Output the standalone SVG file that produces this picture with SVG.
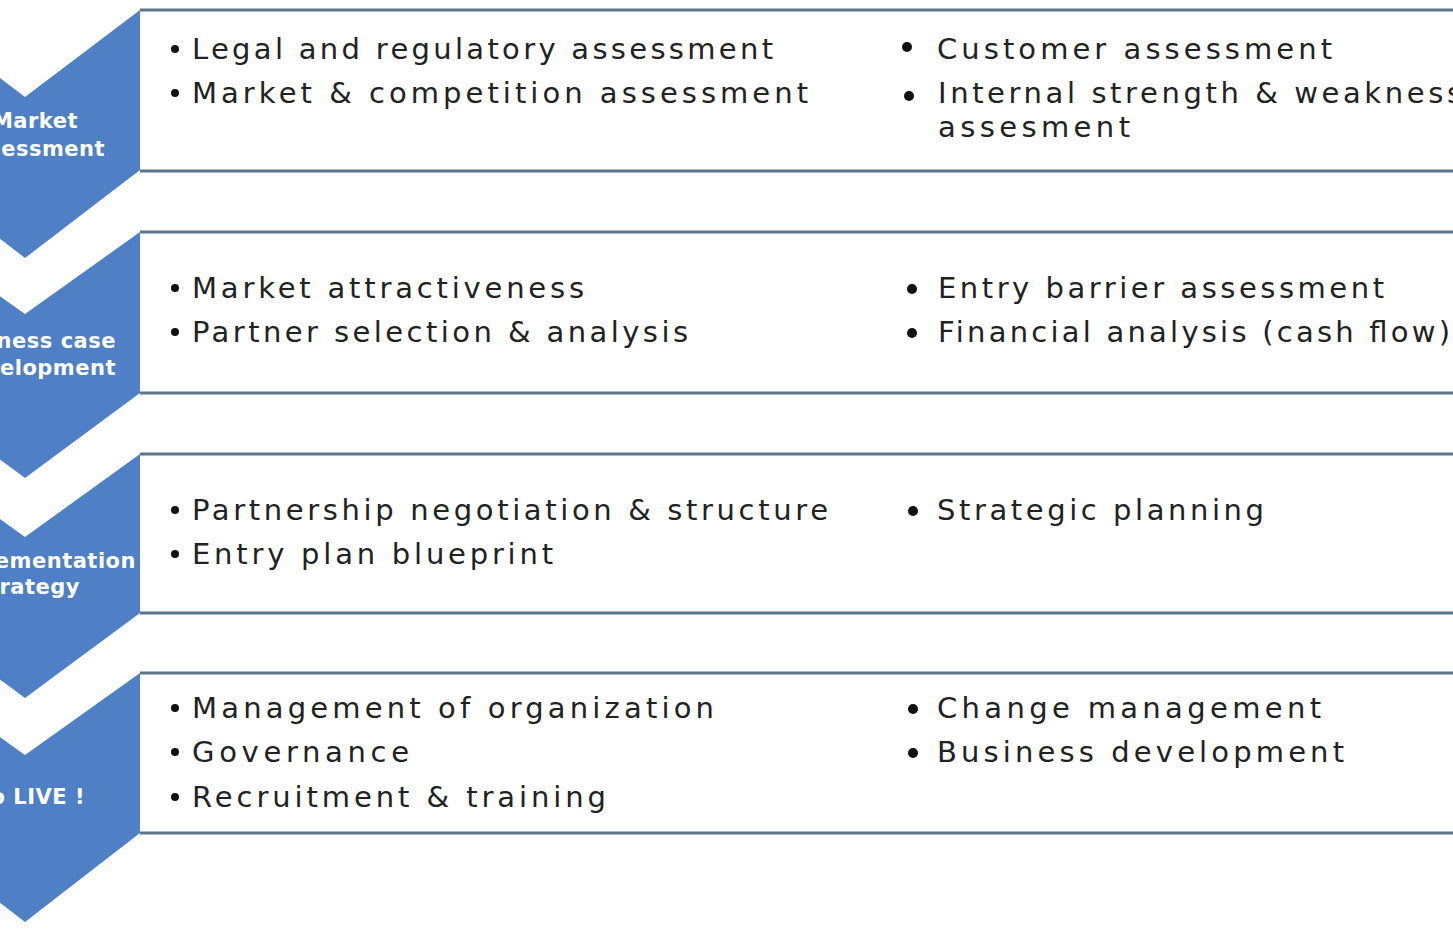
<svg xmlns="http://www.w3.org/2000/svg" width="1453" height="937" viewBox="0 0 1453 937">
<style>
.chev{fill:#4f80c6}
.box{fill:#ffffff}
.rule{stroke:#5c7488;stroke-width:3;fill:none}
.lbl{font-family:"DejaVu Sans","Liberation Sans",sans-serif;font-size:21px;font-weight:bold;fill:#ffffff;letter-spacing:0.5px}
.item{font-family:"DejaVu Sans","Liberation Sans",sans-serif;font-size:29px;fill:#222222}
.dot{fill:#111111}
</style>
<rect x="0" y="0" width="1453" height="937" fill="#ffffff"/>
<g id="connectors"></g>
<g id="step1">
<polygon class="chev" points="-90,10 25,97 140,10 140,170 25,258 -90,170"/>
<rect class="box" x="141" y="11" width="1312" height="158"/>
<line class="rule" x1="140" y1="10" x2="1453" y2="10"/>
<line class="rule" x1="140" y1="171" x2="1453" y2="171"/>
<text class="lbl" x="78" y="128" text-anchor="end">Market</text>
<text class="lbl" x="105" y="156" text-anchor="end">Assessment</text>
<circle class="dot" cx="175" cy="49" r="4"/>
<text class="item" x="192" y="59" textLength="581" lengthAdjust="spacing">Legal and regulatory assessment</text>
<circle class="dot" cx="175" cy="93" r="4"/>
<text class="item" x="192" y="103" textLength="616" lengthAdjust="spacing">Market &amp; competition assessment</text>
<circle class="dot" cx="907" cy="47" r="5"/>
<text class="item" x="937" y="59" textLength="395" lengthAdjust="spacing">Customer assessment</text>
<circle class="dot" cx="909" cy="96" r="5"/>
<text class="item" x="938" y="103" textLength="524" lengthAdjust="spacing">Internal strength &amp; weakness</text>
<text class="item" x="938" y="137" textLength="192" lengthAdjust="spacing">assesment</text>
</g>
<g id="step2">
<polygon class="chev" points="-90,232 25,314 140,232 140,393 25,478 -90,393"/>
<rect class="box" x="141" y="233" width="1312" height="159"/>
<line class="rule" x1="140" y1="232" x2="1453" y2="232"/>
<line class="rule" x1="140" y1="393" x2="1453" y2="393"/>
<text class="lbl" x="116" y="348" text-anchor="end">Business case</text>
<text class="lbl" x="116" y="375" text-anchor="end">Development</text>
<circle class="dot" cx="175" cy="288" r="4"/>
<text class="item" x="192" y="298" textLength="392" lengthAdjust="spacing">Market attractiveness</text>
<circle class="dot" cx="175" cy="332" r="4"/>
<text class="item" x="192" y="342" textLength="496" lengthAdjust="spacing">Partner selection &amp; analysis</text>
<circle class="dot" cx="912" cy="289" r="5"/>
<text class="item" x="938" y="298" textLength="446" lengthAdjust="spacing">Entry barrier assessment</text>
<circle class="dot" cx="912" cy="333" r="5"/>
<text class="item" x="938" y="342" textLength="512" lengthAdjust="spacing">Financial analysis (cash flow)</text>
</g>
<g id="step3">
<polygon class="chev" points="-90,454 25,537 140,454 140,613 25,698 -90,613"/>
<rect class="box" x="141" y="455" width="1312" height="157"/>
<line class="rule" x1="140" y1="454" x2="1453" y2="454"/>
<line class="rule" x1="140" y1="613" x2="1453" y2="613"/>
<text class="lbl" x="136" y="568" text-anchor="end">Implementation</text>
<text class="lbl" x="80" y="594" text-anchor="end">Strategy</text>
<circle class="dot" cx="175" cy="510" r="4"/>
<text class="item" x="192" y="520" textLength="636" lengthAdjust="spacing">Partnership negotiation &amp; structure</text>
<circle class="dot" cx="175" cy="554" r="4"/>
<text class="item" x="192" y="564" textLength="361" lengthAdjust="spacing">Entry plan blueprint</text>
<circle class="dot" cx="913" cy="511" r="5"/>
<text class="item" x="937" y="520" textLength="327" lengthAdjust="spacing">Strategic planning</text>
</g>
<g id="step4">
<polygon class="chev" points="-90,673 25,755 140,673 140,833 25,922 -90,833"/>
<rect class="box" x="141" y="674" width="1312" height="158"/>
<line class="rule" x1="140" y1="673" x2="1453" y2="673"/>
<line class="rule" x1="140" y1="833" x2="1453" y2="833"/>
<text class="lbl" x="85" y="804" text-anchor="end">Go LIVE !</text>
<circle class="dot" cx="175" cy="708" r="4"/>
<text class="item" x="192" y="718" textLength="522" lengthAdjust="spacing">Management of organization</text>
<circle class="dot" cx="175" cy="752" r="4"/>
<text class="item" x="192" y="762" textLength="217" lengthAdjust="spacing">Governance</text>
<circle class="dot" cx="175" cy="797" r="4"/>
<text class="item" x="192" y="807" textLength="414" lengthAdjust="spacing">Recruitment &amp; training</text>
<circle class="dot" cx="913" cy="709" r="5"/>
<text class="item" x="937" y="718" textLength="384" lengthAdjust="spacing">Change management</text>
<circle class="dot" cx="913" cy="753" r="5"/>
<text class="item" x="937" y="762" textLength="407" lengthAdjust="spacing">Business development</text>
</g>
</svg>
